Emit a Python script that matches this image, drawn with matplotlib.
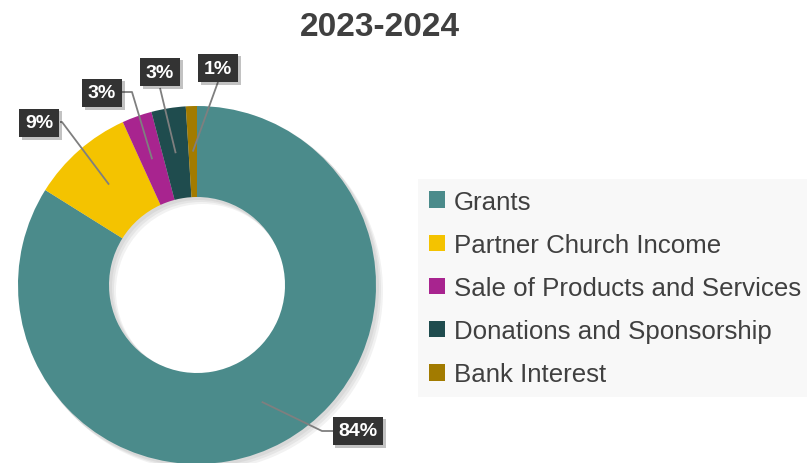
import matplotlib.pyplot as plt
import matplotlib.patheffects as pe
import numpy as np
from matplotlib.patches import Wedge

plt.rcParams['font.family'] = ['Liberation Sans', 'DejaVu Sans']

W, H = 807, 464

categories = ['Grants', 'Partner Church Income', 'Sale of Products and Services',
              'Donations and Sponsorship', 'Bank Interest']
values = [83.9, 9.3, 2.7, 3.1, 1.0]
labels = ['84%', '9%', '3%', '3%', '1%']
colors = ['#4b8b8b', '#f4c300', '#a8248f', '#1f4c4e', '#a27b00']


def Y(y):
    # image rows -> axes units (y up)
    return H - y


# label box centre, where the leader meets the box, and the elbow (image px)
box_xy = [(358, 432), (39, 124), (102, 94), (160, 73), (218, 69)]
attach = [(333, 432), (60, 123), (121, 93), (160, 89), (218, 83)]
elbow = [(322, 432), (62, 123), (132, 93), (160, 89), (218, 83)]

cx, cy = 197, Y(286)
R, ring = 179, 91

fig = plt.figure(figsize=(W / 100, H / 100), dpi=100)
ax = fig.add_axes([0, 0, 1, 1])

# soft shadow behind the ring
for k in range(3):
    off = 2 + k * 2
    ax.add_patch(Wedge((cx + off, cy - off), R + 1, 0, 360, width=ring + 2,
                       facecolor='black', alpha=0.05, lw=0, zorder=0))

wedges, _ = ax.pie(values, colors=colors, startangle=90, counterclock=False,
                   radius=R, center=(cx, cy),
                   wedgeprops=dict(width=ring, linewidth=0))
for w in wedges:
    w.set_zorder(1)

rmid = R - ring / 2
for w, lab, b, at, el in zip(wedges, labels, box_xy, attach, elbow):
    ang = np.deg2rad((w.theta1 + w.theta2) / 2)
    sx, sy = cx + rmid * np.cos(ang), cy + rmid * np.sin(ang)
    ax.plot([sx, el[0], at[0]], [sy, Y(el[1]), Y(at[1])],
            color='#7f7f7f', lw=1.3, zorder=2, solid_capstyle='butt')
    t = ax.text(b[0], Y(b[1]), lab, ha='center', va='center', fontsize=14,
                fontweight='bold', color='white', zorder=4,
                bbox=dict(boxstyle='square,pad=0.3', facecolor='#333333',
                          edgecolor='none'))
    t.get_bbox_patch().set_path_effects(
        [pe.SimplePatchShadow(offset=(2, -2), alpha=0.25), pe.Normal()])

ax.text(380, Y(27), '2023-2024', ha='center', va='center', fontsize=24,
        fontweight='bold', color='#404040')

leg = ax.legend(wedges, categories, loc='upper left',
                bbox_to_anchor=(418 / W, Y(180) / H), frameon=True,
                fontsize=18.6, labelcolor='#404040', handlelength=0.62,
                handleheight=0.62, handletextpad=0.35, labelspacing=0.74,
                borderpad=0.42, borderaxespad=0, fancybox=False)
leg.get_frame().set_facecolor('#f7f7f7')
leg.get_frame().set_edgecolor('none')

ax.set_xlim(0, W)
ax.set_ylim(0, H)
ax.set_aspect('equal')
ax.axis('off')

fig.savefig('out.png', dpi=100)
